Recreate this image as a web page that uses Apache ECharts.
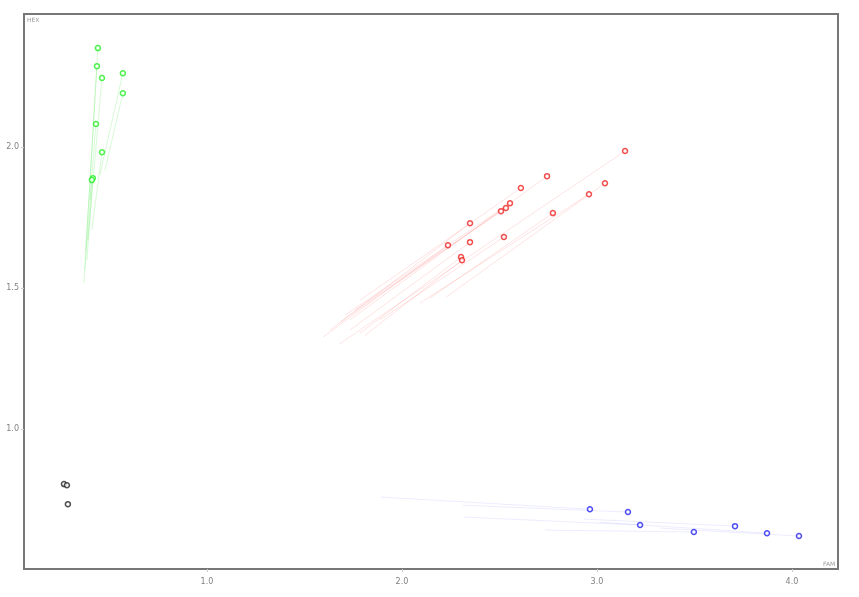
<!DOCTYPE html>
<html>
<head>
<meta charset="utf-8">
<script src="https://cdn.jsdelivr.net/npm/echarts@6/dist/echarts.min.js"></script>
<style>
  html, body { margin: 0; padding: 0; background: #fff; }
  #chart { width: 859px; height: 597px; }
</style>
</head>
<body>
<div id="chart"></div>
<script>
// tick labels
var xTicks = [1, 2, 3, 4]
var yTicks = [1, 1.5, 2]

// green group: point and start of its trail
var greenX = [0.441, 0.436, 0.462, 0.569, 0.569, 0.431, 0.462, 0.415, 0.410]
var greenY = [2.351, 2.287, 2.245, 2.262, 2.191, 2.082, 1.982, 1.890, 1.883]
var greenFromX = [0.379, 0.369, 0.390, 0.451, 0.477, 0.400, 0.410, 0.385, 0.374]
var greenFromY = [1.635, 1.518, 1.670, 1.901, 1.918, 1.812, 1.706, 1.599, 1.564]

// red group
var redX = [3.144, 2.744, 3.041, 2.610, 2.959, 2.554, 2.533, 2.508, 2.774, 2.349, 2.236, 2.349, 2.523, 2.303, 2.308]
var redY = [1.986, 1.897, 1.872, 1.855, 1.833, 1.801, 1.784, 1.773, 1.766, 1.730, 1.652, 1.663, 1.681, 1.610, 1.599]
var redFromX = [1.677, 1.733, 2.226, 1.785, 2.092, 1.708, 1.759, 1.682, 2.144, 1.631, 1.595, 1.733, 1.887, 1.785, 1.810]
var redFromY = [1.301, 1.387, 1.468, 1.457, 1.447, 1.404, 1.422, 1.379, 1.465, 1.351, 1.326, 1.351, 1.387, 1.340, 1.333]

// blue group
var blueX = [2.964, 3.159, 3.221, 3.708, 3.497, 3.872, 4.036]
var blueY = [0.716, 0.706, 0.660, 0.656, 0.635, 0.631, 0.621]
var blueFromX = [1.892, 2.313, 2.318, 2.933, 2.733, 3.015, 3.323]
var blueFromY = [0.759, 0.730, 0.688, 0.681, 0.642, 0.670, 0.649]

// black group (no trails)
var blackX = [0.267, 0.282, 0.287]
var blackY = [0.805, 0.801, 0.734]

function pts(xs, ys) {
    return xs.map(function (x, i) { return [x, ys[i]] })
}
function trails(fx, fy, xs, ys) {
    return xs.map(function (x, i) {
        return { coords: [[fx[i], fy[i]], [x, ys[i]]] }
    })
}
function trailSeries(data, color) {
    return {
        type: 'lines',
        coordinateSystem: 'cartesian2d',
        silent: true,
        data: data,
        lineStyle: { color: color, width: 1, opacity: 1 }
    }
}
function dotSeries(data, color) {
    return {
        type: 'scatter',
        data: data,
        symbol: 'circle',
        symbolSize: 5,
        itemStyle: { color: '#fff', borderColor: color, borderWidth: 1.5 }
    }
}

var chart = echarts.init(document.getElementById('chart'))
var labelStyle = { color: '#808080', fontSize: 8, fontFamily: 'DejaVu Sans' }

chart.setOption({
    animation: false,
    backgroundColor: '#fff',
    grid: {
        left: 24, right: 21, top: 14, bottom: 28,
        show: true,
        borderColor: '#777',
        borderWidth: 2,
        backgroundColor: '#fff'
    },
    xAxis: {
        type: 'value',
        min: 0.062,
        max: 4.236,
        splitLine: { show: false },
        axisLine: { show: false },
        axisTick: { show: true, length: 3, lineStyle: { color: '#ccc' }, customValues: xTicks },
        axisLabel: Object.assign({
            margin: 9,
            customValues: xTicks,
            formatter: function (v) { return v.toFixed(1) }
        }, labelStyle)
    },
    yAxis: {
        type: 'value',
        min: 0.504,
        max: 2.472,
        splitLine: { show: false },
        axisLine: { show: false },
        axisTick: { show: true, length: 3, lineStyle: { color: '#ccc' }, customValues: yTicks },
        axisLabel: Object.assign({
            margin: 5,
            customValues: yTicks,
            formatter: function (v) { return v.toFixed(1) }
        }, labelStyle)
    },
    graphic: [
        { type: 'text', left: 27, top: 17, style: { text: 'HEX', fill: '#999', fontSize: 6, fontFamily: 'DejaVu Sans' } },
        { type: 'text', left: 823, top: 561, style: { text: 'FAM', fill: '#999', fontSize: 6, fontFamily: 'DejaVu Sans' } }
    ],
    series: [
        trailSeries(trails(greenFromX, greenFromY, greenX, greenY), 'rgba(60,230,60,0.2)'),
        trailSeries(trails(redFromX, redFromY, redX, redY), 'rgba(255,60,60,0.14)'),
        trailSeries(trails(blueFromX, blueFromY, blueX, blueY), 'rgba(70,70,255,0.1)'),
        dotSeries(pts(greenX, greenY), '#22ee22'),
        dotSeries(pts(redX, redY), '#ee2222'),
        dotSeries(pts(blueX, blueY), '#2222ee'),
        dotSeries(pts(blackX, blackY), '#222')
    ]
})
</script>
</body>
</html>
